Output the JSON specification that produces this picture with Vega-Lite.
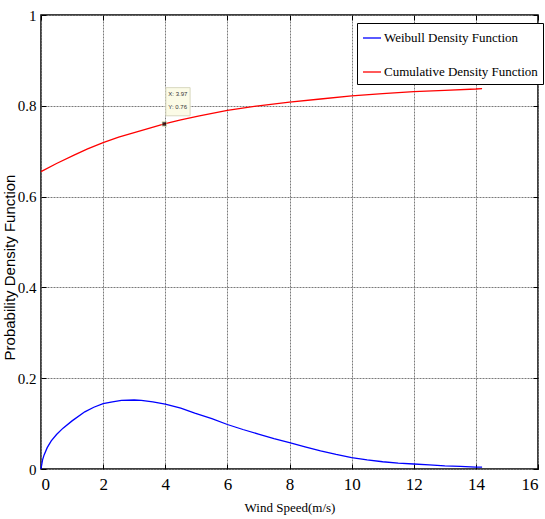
{
  "$schema": "https://vega.github.io/schema/vega-lite/v6.json",
  "width": 497,
  "height": 454,
  "autosize": {"type": "none"},
  "padding": {"left": 41, "top": 15, "right": 7, "bottom": 50},
  "background": "white",
  "config": {
    "view": {"stroke": "black", "strokeWidth": 1.5},
    "axis": {
      "domain": false,
      "tickColor": "black",
      "tickSize": -5,
      "labelFont": "Liberation Serif",
      "labelFontSize": 16,
      "labelColor": "black",
      "gridColor": "#7a7a7a",
      "gridDash": [2, 1],
      "gridWidth": 1,
      "gridOpacity": 1
    }
  },
  "datasets": {
    "curves": [
      {"s": "Weibull Density Function", "x": 0, "y": 0},
      {"s": "Weibull Density Function", "x": 0.05, "y": 0.02},
      {"s": "Weibull Density Function", "x": 0.1, "y": 0.031},
      {"s": "Weibull Density Function", "x": 0.2, "y": 0.047},
      {"s": "Weibull Density Function", "x": 0.33, "y": 0.062},
      {"s": "Weibull Density Function", "x": 0.5, "y": 0.076},
      {"s": "Weibull Density Function", "x": 0.71, "y": 0.09},
      {"s": "Weibull Density Function", "x": 1, "y": 0.106},
      {"s": "Weibull Density Function", "x": 1.41, "y": 0.126},
      {"s": "Weibull Density Function", "x": 1.7, "y": 0.136},
      {"s": "Weibull Density Function", "x": 2, "y": 0.144},
      {"s": "Weibull Density Function", "x": 2.3, "y": 0.148},
      {"s": "Weibull Density Function", "x": 2.59, "y": 0.151},
      {"s": "Weibull Density Function", "x": 3, "y": 0.152},
      {"s": "Weibull Density Function", "x": 3.23, "y": 0.151},
      {"s": "Weibull Density Function", "x": 3.6, "y": 0.148},
      {"s": "Weibull Density Function", "x": 4, "y": 0.143},
      {"s": "Weibull Density Function", "x": 4.5, "y": 0.134},
      {"s": "Weibull Density Function", "x": 4.95, "y": 0.123},
      {"s": "Weibull Density Function", "x": 5.5, "y": 0.111},
      {"s": "Weibull Density Function", "x": 6, "y": 0.098},
      {"s": "Weibull Density Function", "x": 6.5, "y": 0.087},
      {"s": "Weibull Density Function", "x": 7, "y": 0.077},
      {"s": "Weibull Density Function", "x": 7.5, "y": 0.067},
      {"s": "Weibull Density Function", "x": 8, "y": 0.058},
      {"s": "Weibull Density Function", "x": 8.5, "y": 0.049},
      {"s": "Weibull Density Function", "x": 9, "y": 0.04},
      {"s": "Weibull Density Function", "x": 9.5, "y": 0.032},
      {"s": "Weibull Density Function", "x": 10, "y": 0.025},
      {"s": "Weibull Density Function", "x": 10.5, "y": 0.02},
      {"s": "Weibull Density Function", "x": 11, "y": 0.016},
      {"s": "Weibull Density Function", "x": 11.5, "y": 0.013},
      {"s": "Weibull Density Function", "x": 12, "y": 0.011},
      {"s": "Weibull Density Function", "x": 12.5, "y": 0.009},
      {"s": "Weibull Density Function", "x": 13, "y": 0.007},
      {"s": "Weibull Density Function", "x": 13.5, "y": 0.006},
      {"s": "Weibull Density Function", "x": 14, "y": 0.004},
      {"s": "Weibull Density Function", "x": 14.2, "y": 0.004},
      {"s": "Cumulative Density Function", "x": 0, "y": 0.655},
      {"s": "Cumulative Density Function", "x": 0.5, "y": 0.673},
      {"s": "Cumulative Density Function", "x": 1.08, "y": 0.692},
      {"s": "Cumulative Density Function", "x": 1.5, "y": 0.705},
      {"s": "Cumulative Density Function", "x": 2, "y": 0.719},
      {"s": "Cumulative Density Function", "x": 2.5, "y": 0.731},
      {"s": "Cumulative Density Function", "x": 3, "y": 0.741},
      {"s": "Cumulative Density Function", "x": 3.5, "y": 0.751},
      {"s": "Cumulative Density Function", "x": 3.97, "y": 0.76},
      {"s": "Cumulative Density Function", "x": 4.5, "y": 0.769},
      {"s": "Cumulative Density Function", "x": 5.1, "y": 0.778},
      {"s": "Cumulative Density Function", "x": 6, "y": 0.79},
      {"s": "Cumulative Density Function", "x": 7, "y": 0.8},
      {"s": "Cumulative Density Function", "x": 8, "y": 0.808},
      {"s": "Cumulative Density Function", "x": 9, "y": 0.815},
      {"s": "Cumulative Density Function", "x": 10, "y": 0.822},
      {"s": "Cumulative Density Function", "x": 11, "y": 0.827},
      {"s": "Cumulative Density Function", "x": 12, "y": 0.831},
      {"s": "Cumulative Density Function", "x": 13, "y": 0.834},
      {"s": "Cumulative Density Function", "x": 14, "y": 0.837},
      {"s": "Cumulative Density Function", "x": 14.2, "y": 0.838}
    ],
    "tipbox": [{"x": 4.02, "x2": 4.8, "y": 0.84, "y2": 0.778}],
    "tiptext": [
      {"x": 4.1, "y": 0.825, "t": "X: 3.97"},
      {"x": 4.1, "y": 0.798, "t": "Y: 0.76"}
    ],
    "marker": [{"x": 3.97, "y": 0.76}]
  },
  "resolve": {"axis": {"x": "independent", "y": "independent"}},
  "layer": [
    {
      "data": {"name": "curves"},
      "mark": {"type": "line", "strokeWidth": 1.3, "interpolate": "linear"},
      "encoding": {
        "x": {
          "field": "x", "type": "quantitative",
          "scale": {"domain": [0, 16], "nice": false, "zero": false},
          "axis": {
            "orient": "bottom", "values": [0, 2, 4, 6, 8, 10, 12, 14, 16],
            "labelFont": "Liberation Serif", "labelFontSize": 17,
            "title": "Wind Speed(m/s)", "titleFont": "Liberation Serif",
            "titleFontSize": 13, "titleFontWeight": "normal", "titleColor": "black",
            "titlePadding": 9, "labelPadding": 12, "grid": true, "format": "d"
          }
        },
        "y": {
          "field": "y", "type": "quantitative",
          "scale": {"domain": [0, 1], "nice": false},
          "axis": {
            "orient": "left", "values": [0, 0.2, 0.4, 0.6, 0.8, 1],
            "format": ".1~f",
            "labelFont": "Liberation Serif", "labelFontSize": 15,
            "title": "Probability Density Function", "titleFont": "Liberation Sans",
            "titleFontSize": 15, "titleFontWeight": "normal", "titleColor": "black",
            "titleX": -32, "titleY": 252, "titleAngle": 270, "titleBaseline": "middle", "titleAlign": "center",
            "labelPadding": 10, "grid": true
          }
        },
        "color": {
          "field": "s", "type": "nominal",
          "scale": {
            "domain": ["Weibull Density Function", "Cumulative Density Function"],
            "range": ["#0000ff", "#ff0000"]
          },
          "legend": {
            "title": null, "orient": "none", "legendX": 316, "legendY": 8,
            "strokeColor": "black", "fillColor": "white", "padding": 5,
            "symbolType": "stroke", "symbolSize": 324, "symbolStrokeWidth": 1.3,
            "labelFont": "Liberation Serif", "labelFontSize": 13, "labelColor": "black",
            "labelLimit": 300, "rowPadding": 17, "labelOffset": 2
          }
        }
      }
    },
    {
      "data": {"name": "marker"},
      "mark": {"type": "point", "opacity": 0},
      "encoding": {
        "x": {
          "field": "x", "type": "quantitative",
          "axis": {"orient": "top", "values": [0, 2, 4, 6, 8, 10, 12, 14, 16], "labels": false, "title": null, "grid": false}
        },
        "y": {
          "field": "y", "type": "quantitative",
          "axis": {"orient": "right", "values": [0, 0.2, 0.4, 0.6, 0.8, 1], "labels": false, "title": null, "grid": false}
        }
      }
    },
    {
      "data": {"name": "tipbox"},
      "mark": {"type": "rect", "fill": "#fbfbe6", "stroke": "#d8d8c0", "strokeWidth": 1},
      "encoding": {
        "x": {"field": "x", "type": "quantitative", "axis": null},
        "x2": {"field": "x2"},
        "y": {"field": "y", "type": "quantitative", "axis": null},
        "y2": {"field": "y2"}
      }
    },
    {
      "data": {"name": "tiptext"},
      "mark": {"type": "text", "align": "left", "baseline": "middle", "font": "Liberation Sans", "fontSize": 6, "color": "#333"},
      "encoding": {
        "x": {"field": "x", "type": "quantitative", "axis": null},
        "y": {"field": "y", "type": "quantitative", "axis": null},
        "text": {"field": "t"}
      }
    },
    {
      "data": {"name": "marker"},
      "mark": {"type": "square", "filled": true, "color": "black", "size": 22, "stroke": "#e8e8b0", "strokeWidth": 0.8},
      "encoding": {
        "x": {"field": "x", "type": "quantitative", "axis": null},
        "y": {"field": "y", "type": "quantitative", "axis": null}
      }
    }
  ]
}
